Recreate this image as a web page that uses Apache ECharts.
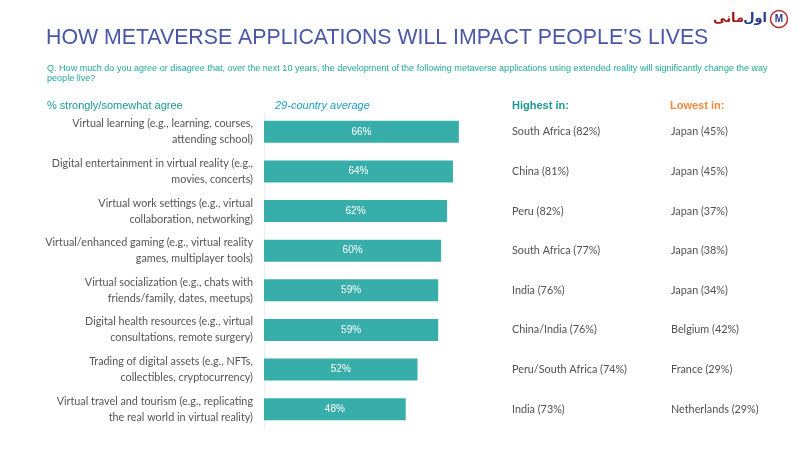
<!DOCTYPE html>
<html>
<head>
<meta charset="utf-8">
<script src="https://cdn.jsdelivr.net/npm/echarts@6/dist/echarts.min.js"></script>
<style>html,body{margin:0;padding:0;background:#fff}#c{width:800px;height:450px}</style>
</head>
<body>
<div id="c"></div>
<script>
const categories = [
  "Virtual learning (e.g., learning, courses,\nattending school)",
  "Digital entertainment in virtual reality (e.g.,\nmovies, concerts)",
  "Virtual work settings (e.g., virtual\ncollaboration, networking)",
  "Virtual/enhanced gaming (e.g., virtual reality\ngames, multiplayer tools)",
  "Virtual socialization (e.g., chats with\nfriends/family, dates, meetups)",
  "Digital health resources (e.g., virtual\nconsultations, remote surgery)",
  "Trading of digital assets (e.g., NFTs,\ncollectibles, cryptocurrency)",
  "Virtual travel and tourism (e.g., replicating\nthe real world in virtual reality)"
];
const averages = [66, 64, 62, 60, 59, 59, 52, 48];
const highestIn = ["South Africa (82%)", "China (81%)", "Peru (82%)", "South Africa (77%)", "India (76%)", "China/India (76%)", "Peru/South Africa (74%)", "India (73%)"];
const lowestIn = ["Japan (45%)", "Japan (45%)", "Japan (37%)", "Japan (38%)", "Japan (34%)", "Belgium (42%)", "France (29%)", "Netherlands (29%)"];

const chart = echarts.init(document.getElementById('c'), null, {renderer: 'canvas'});
const font = 'Lato, "Open Sans", sans-serif';
const sans = '"Liberation Sans", Arial, sans-serif';
chart.setOption({
  backgroundColor: '#ffffff',
  animation: false,
  title: [
    {text: "HOW METAVERSE APPLICATIONS WILL IMPACT PEOPLE\u2019S LIVES", left: 41, top: 23,
     textStyle: {fontFamily: sans, fontSize: 21.3, fontWeight: 'normal', color: '#4a56a6'}},
    {text: "Q. How much do you agree or disagree that, over the next 10 years, the development of the following metaverse applications using extended reality will significantly change the way\npeople live?",
     left: 42, top: 59,
     textStyle: {fontFamily: sans, fontSize: 9.05, fontWeight: 'normal', color: '#22a89c', lineHeight: 10}},
    {text: "% strongly/somewhat agree", left: 42, top: 95,
     textStyle: {fontFamily: sans, fontSize: 11, fontWeight: 'normal', color: '#1c9a90'}},
    {text: "29-country average", left: 270, top: 95,
     textStyle: {fontFamily: sans, fontSize: 11, fontStyle: 'italic', fontWeight: 'normal', color: '#1ca0c8'}},
    {text: "Highest in:", left: 507, top: 95,
     textStyle: {fontFamily: sans, fontSize: 11, fontWeight: 'bold', color: '#1c9a90'}},
    {text: "Lowest in:", left: 665, top: 95,
     textStyle: {fontFamily: sans, fontSize: 11, fontWeight: 'bold', color: '#f0883a'}}
  ],
  grid: {left: 264, top: 112, width: 248, bottom: 21, containLabel: false},
  xAxis: {type: 'value', min: 0, max: 84, show: false},
  yAxis: [
    {type: 'category', data: categories, inverse: true, position: 'left',
     axisLine: {show: true, lineStyle: {color: '#eeeeee'}}, axisTick: {show: false},
     axisLabel: {margin: 11, align: 'right', fontFamily: font, fontSize: 10.8, color: '#555555', lineHeight: 16}},
    {type: 'category', data: highestIn, inverse: true, position: 'right',
     axisLine: {show: false}, axisTick: {show: false},
     axisLabel: {margin: 0, align: 'left', fontFamily: font, fontSize: 10.8, color: '#505050'}},
    {type: 'category', data: lowestIn, inverse: true, position: 'right', offset: 159,
     axisLine: {show: false}, axisTick: {show: false},
     axisLabel: {margin: 0, align: 'left', fontFamily: font, fontSize: 10.8, color: '#505050'}}
  ],
  series: [{
    type: 'bar', data: averages, barWidth: 22, yAxisIndex: 0,
    itemStyle: {color: '#38aeaa'},
    label: {show: true, position: 'inside', formatter: '{c}%', color: '#ffffff',
            fontFamily: sans, fontSize: 10}
  }],
  graphic: [
    {type: 'circle', shape: {cx: 779, cy: 19, r: 8.5}, style: {fill: '#ffffff', stroke: '#b03030', lineWidth: 1.5}},
    {type: 'text', style: {text: 'M', x: 779, y: 19, align: 'center', verticalAlign: 'middle',
      font: 'bold 10px "Liberation Sans", Arial', fill: '#2a3a8a'}},
    {type: 'text', style: {text: 'اول', x: 767, y: 19, align: 'right', verticalAlign: 'middle',
      font: 'bold 13px "DejaVu Sans", sans-serif', fill: '#2a3a8a'}},
    {type: 'text', style: {text: 'مانی', x: 744, y: 19, align: 'right', verticalAlign: 'middle',
      font: 'bold 13px "DejaVu Sans", sans-serif', fill: '#a01818'}}
  ]
});
</script>
</body>
</html>
